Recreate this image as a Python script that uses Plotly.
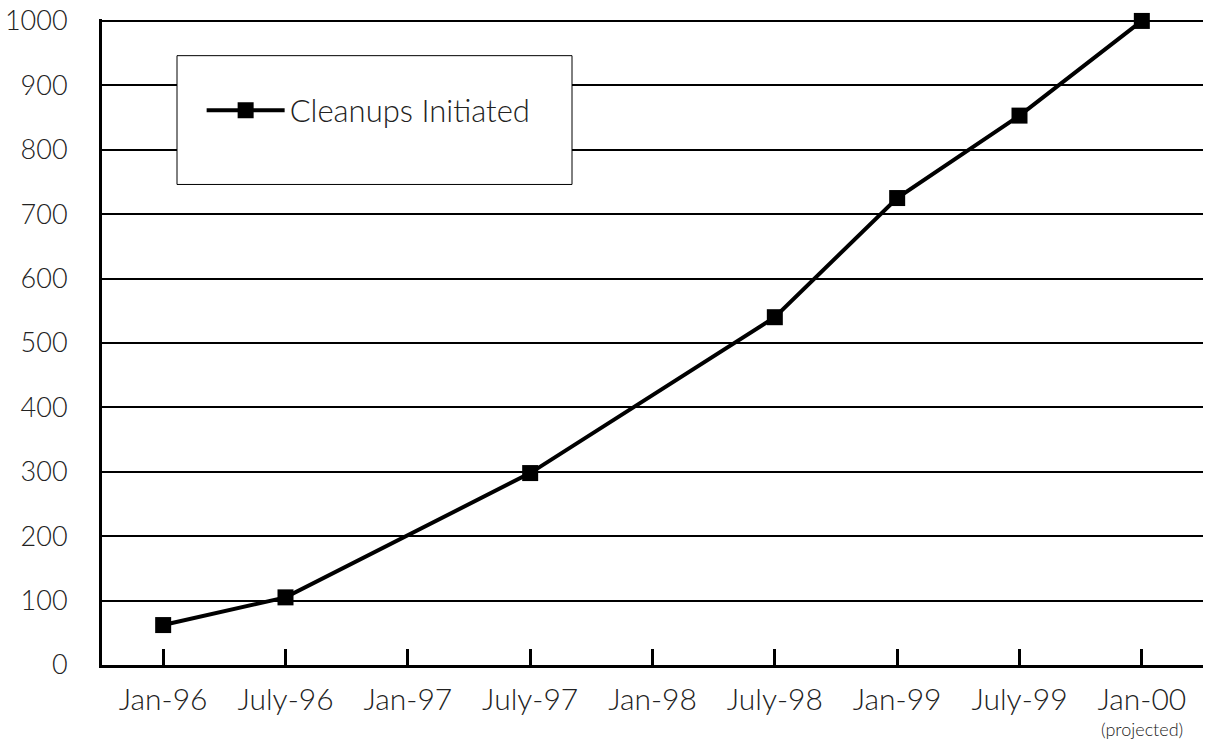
import plotly.graph_objects as go

categories = ["Jan-96", "July-96", "Jan-97", "July-97", "Jan-98",
              "July-98", "Jan-99", "July-99", "Jan-00"]
tick_labels = ["Jan-96", "July-96", "Jan-97", "July-97", "Jan-98",
               "July-98", "Jan-99", "July-99", "Jan-00"]
note_category = "Jan-00"
note_text = "(projected)"
cleanups = [62, 105, None, 298, None, 540, 725, 853, 1000]
series_name = "Cleanups Initiated"
y_ticks = [0, 100, 200, 300, 400, 500, 600, 700, 800, 900, 1000]

FONT = "Lato"
TXT = "#222"

fig = go.Figure()
fig.add_trace(go.Scatter(
    x=categories, y=cleanups, name=series_name,
    mode="lines+markers", connectgaps=True,
    line=dict(color="black", width=4),
    marker=dict(symbol="square", size=16, color="black"),
    showlegend=True, cliponaxis=False,
))

fig.update_layout(
    width=1206, height=740,
    margin=dict(l=102, r=3, t=13, b=75),
    paper_bgcolor="white", plot_bgcolor="white",
    font=dict(family=FONT, size=28, color=TXT, weight=300),
    showlegend=True,
    legend=dict(x=0.0905, y=0.90, xanchor="left", yanchor="top",
                bgcolor="rgba(0,0,0,0)", borderwidth=0,
                font=dict(family=FONT, size=31, color=TXT, weight=300),
                itemwidth=78),
    xaxis=dict(type="category", categoryorder="array", categoryarray=categories,
               tickmode="array", tickvals=categories, ticktext=tick_labels,
               range=[-0.5, 8.5], showgrid=False,
               showline=True, linecolor="black", linewidth=3,
               ticks="inside", ticklen=16, tickwidth=2.5, tickcolor="black",
               ticklabelstandoff=6,
               tickfont=dict(family=FONT, size=30, color=TXT, weight=300),
               zeroline=False),
    yaxis=dict(range=[0, 1003], tickmode="array", tickvals=y_ticks,
               showgrid=True, gridcolor="black", gridwidth=2,
               showline=True, linecolor="black", linewidth=3,
               ticks="", ticklabelstandoff=26, ticklabeloverflow="allow",
               tickfont=dict(family=FONT, size=27, color=TXT, weight=300),
               zeroline=False),
    shapes=[dict(type="rect", xref="paper", yref="paper",
                 x0=(177 - 102) / 1101, x1=(572 - 102) / 1101,
                 y0=(665 - 180) / 652, y1=(665 - 50) / 652,
                 line=dict(color="black", width=1), fillcolor="white",
                 layer="above")],
    annotations=[dict(x=note_category, xref="x", y=-(730 - 665) / 652, yref="paper",
                      text=note_text, showarrow=False, xanchor="center",
                      yanchor="middle",
                      font=dict(family=FONT, size=18, color=TXT, weight=300))],
)

fig.write_html("out.html", config={"displayModeBar": False},
               post_script="document.body.style.margin='0';")
